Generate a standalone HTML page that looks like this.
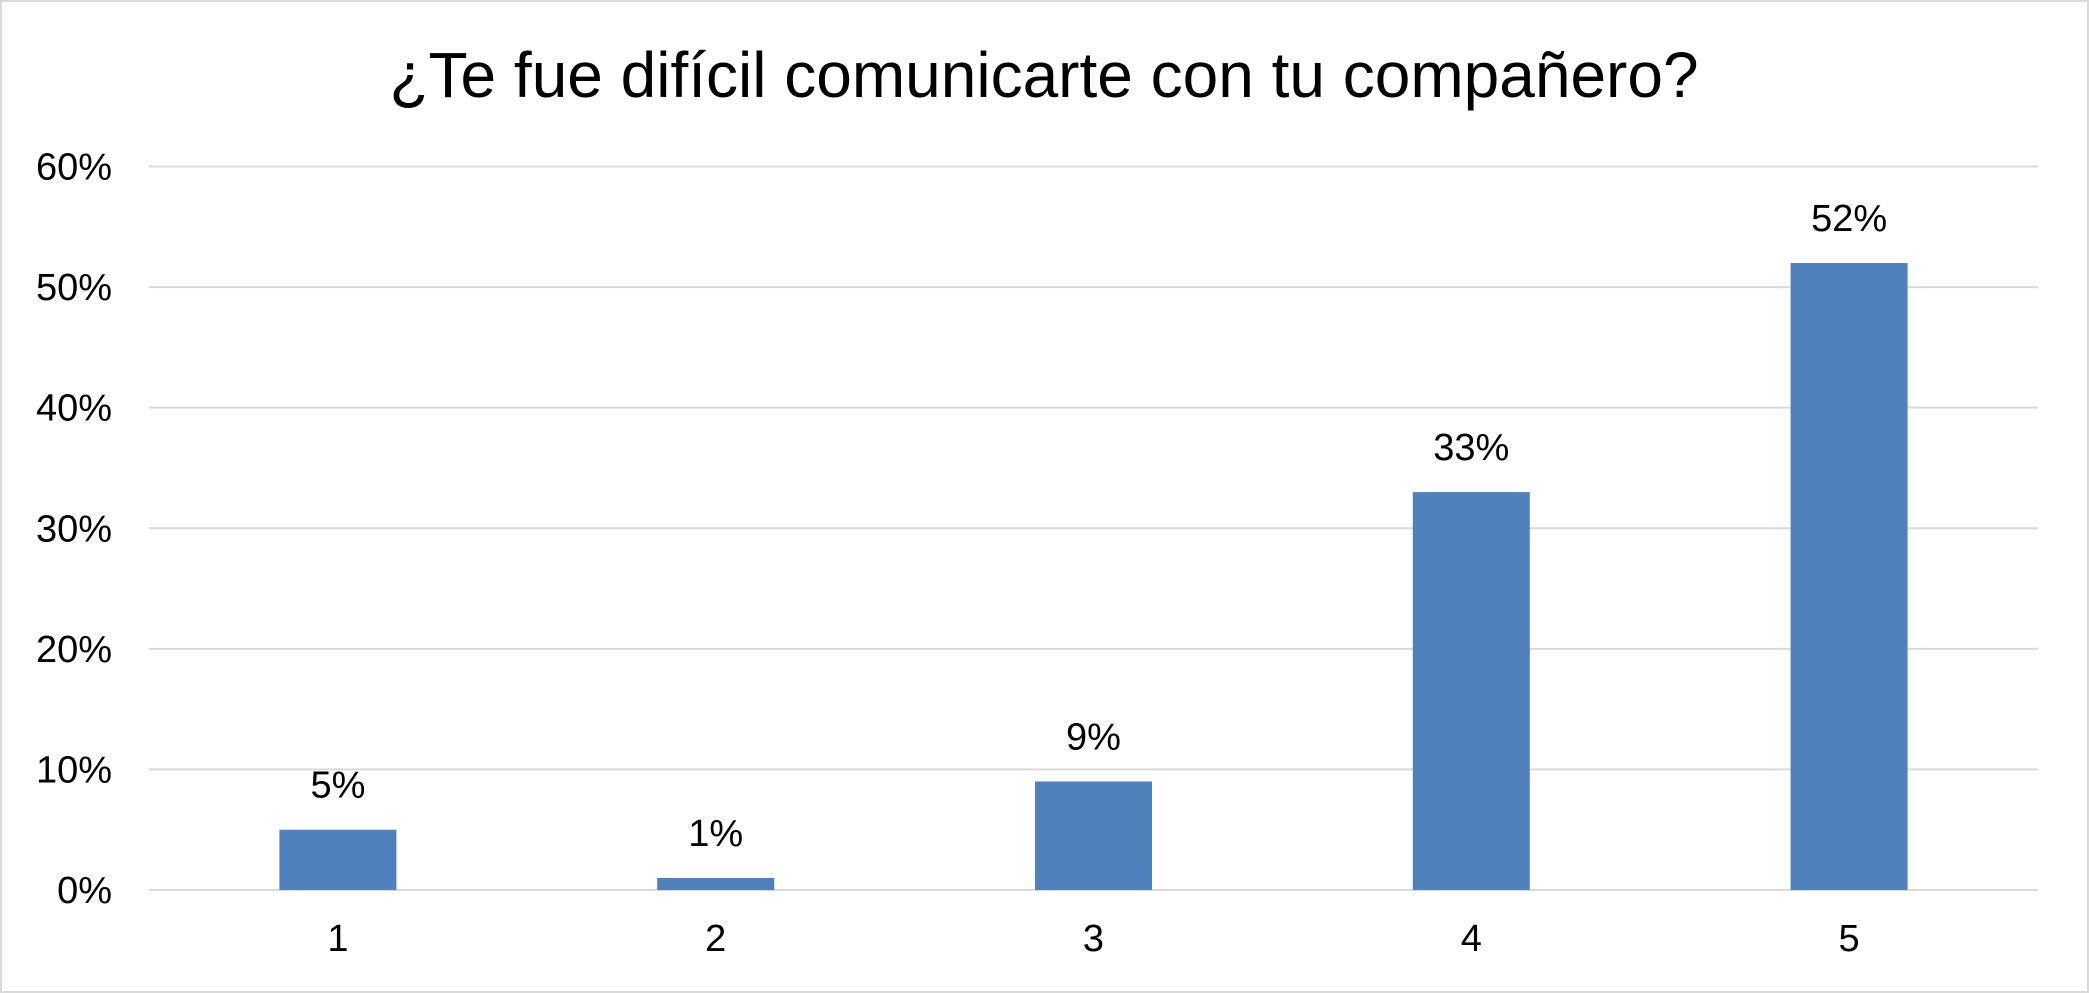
<!DOCTYPE html>
<html><head><meta charset="utf-8"><style>
html,body{margin:0;padding:0;background:#fff;}
svg{display:block;font-family:"Liberation Sans",Arial,sans-serif;}
</style></head><body>
<svg id="chart" width="2089" height="993" viewBox="0 0 2089 993">
<rect x="1" y="1" width="2087" height="991" fill="#fff" stroke="#d9d9d9" stroke-width="2"/>
<text x="1044" y="80" text-anchor="middle" dominant-baseline="middle" font-size="64" fill="#000">¿Te fue difícil comunicarte con tu compañero?</text>
<g id="grid"></g><g id="bars"></g><g id="labels"></g>
</svg>
<script>
const categories=["1","2","3","4","5"];
const values=[5,1,9,33,52];
const yTicks=[0,10,20,30,40,50,60];
const plotLeft=149,plotRight=2038,plotTop=166.5,plotBottom=890,yMax=60;
const ns="http://www.w3.org/2000/svg";
const bw=(plotRight-plotLeft)/categories.length;
function yPos(v){return plotBottom-(v/yMax)*(plotBottom-plotTop);}
function xPos(i){return plotLeft+bw*(i+0.5);}
function mk(tag,attrs,parent,text){const e=document.createElementNS(ns,tag);for(const k in attrs)e.setAttribute(k,attrs[k]);if(text!==undefined)e.textContent=text;document.getElementById(parent).appendChild(e);return e;}
yTicks.forEach(t=>{
  const l=mk("line",{x1:plotLeft,x2:plotRight,y1:yPos(t),y2:yPos(t),stroke:"#d9d9d9","stroke-width":2},"grid");
  
  
  const tx=mk("text",{x:112,y:yPos(t)+3,"text-anchor":"end","dominant-baseline":"middle","font-size":38,fill:"#000"},"grid",t+"%");
  
  
});
categories.forEach((c,i)=>{
  const w=117;
  const r=mk("rect",{x:xPos(i)-w/2,y:yPos(values[i]),width:w,height:plotBottom-yPos(values[i]),fill:"#4f81bd"},"bars");
  
  
  const dl=mk("text",{x:xPos(i),y:yPos(values[i])-42,"text-anchor":"middle","dominant-baseline":"middle","font-size":38,fill:"#000"},"labels",values[i]+"%");
  
  
  const xl=mk("text",{x:xPos(i),y:941,"text-anchor":"middle","dominant-baseline":"middle","font-size":38,fill:"#000"},"labels",c);
  
  
});
</script>
</body></html>
